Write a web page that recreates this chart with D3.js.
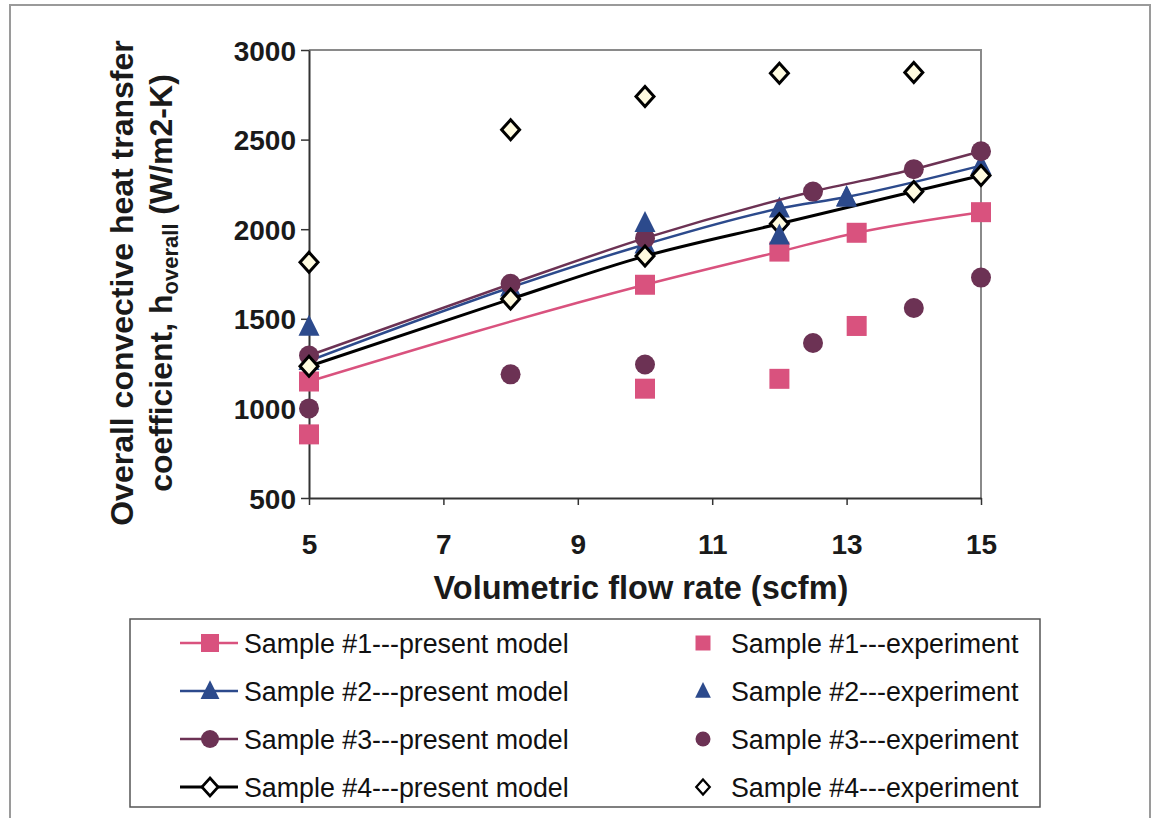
<!DOCTYPE html>
<html><head><meta charset="utf-8">
<script src="https://cdn.jsdelivr.net/npm/d3@7"></script>
<style>body{margin:0;background:#fff;} svg{display:block;font-family:"Liberation Sans",Arial,Helvetica,sans-serif;}</style>
</head><body>
<svg id="c" width="1153" height="818"></svg>
<script>
// ---- data ----
const xTicks = [5, 7, 9, 11, 13, 15];
const yTicks = [500, 1000, 1500, 2000, 2500, 3000];

const s1ModelX = [5, 10, 12, 13.15, 15];
const s1ModelY = [1150, 1690, 1875, 1980, 2095];
const s1ExpX = [5, 10, 12, 13.15];
const s1ExpY = [855, 1110, 1165, 1460];

const s2ModelX = [5, 8, 10, 12, 13, 15];
const s2ModelY = [1265, 1675, 1915, 2115, 2180, 2355];
const s2ExpX = [5, 10, 12, 13];
const s2ExpY = [1455, 2035, 1965, 2175];

const s3ModelX = [5, 8, 10, 12.5, 14, 15];
const s3ModelY = [1295, 1695, 1950, 2210, 2335, 2435];
const s3ExpX = [5, 8, 10, 12.5, 14, 15];
const s3ExpY = [1000, 1190, 1245, 1365, 1560, 1730];

const s4ModelX = [5, 8, 10, 12, 14, 15];
const s4ModelY = [1235, 1610, 1850, 2030, 2210, 2300];
const s4ExpX = [5, 8, 10, 12, 14];
const s4ExpY = [1815, 2555, 2740, 2870, 2875];

const modelNames = ["Sample #1---present model","Sample #2---present model","Sample #3---present model","Sample #4---present model"];
const expNames = ["Sample #1---experiment","Sample #2---experiment","Sample #3---experiment","Sample #4---experiment"];

// ---- styles ----
const colors = ["#d9527e", "#2c4a8c", "#6c3254", "#000000"];
const shapes = ["square", "triangle", "circle", "diamond"];

const svg = d3.select("#c");
const x = d3.scaleLinear().domain([5, 15]).range([309, 981]);
const y = d3.scaleLinear().domain([500, 3000]).range([498, 50]);

// outer frame
svg.append("path").attr("d","M10,830 V5 H1150 V830").attr("fill","none").attr("stroke","#9a9a9a").attr("stroke-width",2);

// plot border (top/right)
svg.append("path").attr("d",`M${x(5)},${y(3000)} H${x(15)} V${y(500)}`).attr("fill","none").attr("stroke","#8a8a8a").attr("stroke-width",2);

// axes
const gy = svg.append("g").attr("transform",`translate(${x(5)},0)`)
  .call(d3.axisLeft(y).tickValues(yTicks).tickFormat(d3.format("d")).tickSize(8).tickSizeOuter(0).tickPadding(5));
const gx = svg.append("g").attr("transform",`translate(0,${y(500)})`)
  .call(d3.axisBottom(x).tickValues(xTicks).tickFormat(d3.format("d")).tickSize(7).tickSizeOuter(0).tickPadding(29));
[gy, gx].forEach(g => {
  g.select(".domain").attr("stroke","#333").attr("stroke-width",2);
  g.selectAll(".tick line").attr("stroke","#333").attr("stroke-width",1.5);
  g.selectAll(".tick text").attr("font-size",28).attr("font-weight","bold").attr("fill","#1a1a1a")
    .attr("font-family","'Liberation Sans',Arial,sans-serif");
});
gy.selectAll(".tick text").attr("dy","0.36em");

// axis titles
svg.append("text").attr("x", 641).attr("y", 599).attr("text-anchor","middle")
  .attr("font-size",32.5).attr("font-weight","bold").attr("fill","#1a1a1a")
  .text("Volumetric flow rate (scfm)");
const yt = svg.append("g").attr("transform","translate(0,283) rotate(-90)");
yt.append("text").attr("x",0).attr("y",133).attr("text-anchor","middle")
  .attr("font-size",32).attr("font-weight","bold").attr("fill","#1a1a1a")
  .text("Overall convective heat transfer");
const t2 = yt.append("text").attr("x",0).attr("y",172).attr("text-anchor","middle")
  .attr("font-size",32).attr("font-weight","bold").attr("fill","#1a1a1a");
t2.append("tspan").text("coefficient, h");
t2.append("tspan").attr("font-size",22).attr("dy",6).text("overall");
t2.append("tspan").attr("dy",-6).text(" (W/m2-K)");

// marker path generator
function markerPath(shape){
  if (shape === "square") return "M-10,-10H10V10H-10Z";
  if (shape === "triangle") return "M0,-12L10.5,9H-10.5Z";
  if (shape === "circle") return d3.symbol(d3.symbolCircle, Math.PI*10*10)();
  return "M0,-10L9,0L0,10L-9,0Z";
}
function drawMarkers(g, xs, ys, i){
  g.selectAll(null).data(xs.map((v,k)=>[v, ys[k]])).enter().append("path")
    .attr("transform", d => `translate(${x(d[0])},${y(d[1])})`)
    .attr("d", markerPath(shapes[i]))
    .attr("fill", shapes[i] === "diamond" ? "#fffbe0" : colors[i])
    .attr("stroke", shapes[i] === "diamond" ? "#000" : "none")
    .attr("stroke-width", 3);
}

const models = [[s1ModelX,s1ModelY],[s2ModelX,s2ModelY],[s3ModelX,s3ModelY],[s4ModelX,s4ModelY]];
const exps = [[s1ExpX,s1ExpY],[s2ExpX,s2ExpY],[s3ExpX,s3ExpY],[s4ExpX,s4ExpY]];

const line = d3.line().x(d=>x(d[0])).y(d=>y(d[1])).curve(d3.curveMonotoneX);
const plot = svg.append("g");
models.forEach((m,i) => {
  const pts = m[0].map((v,k)=>[v, m[1][k]]);
  plot.append("path").attr("d", line(pts)).attr("fill","none")
    .attr("stroke", colors[i]).attr("stroke-width", i===3 ? 3 : 2.5);
  drawMarkers(plot, m[0], m[1], i);
});
exps.forEach((e,i) => drawMarkers(plot, e[0], e[1], i));

// legend
svg.append("rect").attr("x",130).attr("y",619).attr("width",910).attr("height",188)
  .attr("fill","#fff").attr("stroke","#555").attr("stroke-width",1.5);
const rowY = [643, 691, 739, 787];
modelNames.forEach((n,i) => {
  const g = svg.append("g");
  g.append("line").attr("x1",180).attr("x2",238).attr("y1",rowY[i]).attr("y2",rowY[i])
    .attr("stroke",colors[i]).attr("stroke-width", i===3 ? 3 : 2.5);
  g.append("path").attr("transform",`translate(210,${rowY[i]}) scale(0.9)`).attr("d", markerPath(shapes[i]))
    .attr("fill", shapes[i] === "diamond" ? "#fff" : colors[i])
    .attr("stroke", shapes[i] === "diamond" ? "#000" : "none").attr("stroke-width",3);
  g.append("text").attr("x",244).attr("y",rowY[i]).attr("dy","0.36em")
    .attr("font-size",26.8).attr("fill","#111").text(n);
});
expNames.forEach((n,i) => {
  const g = svg.append("g");
  g.append("path").attr("transform",`translate(703,${rowY[i]}) scale(0.75)`).attr("d", markerPath(shapes[i]))
    .attr("fill", shapes[i] === "diamond" ? "#fff" : colors[i])
    .attr("stroke", shapes[i] === "diamond" ? "#000" : "none").attr("stroke-width",3);
  g.append("text").attr("x",731).attr("y",rowY[i]).attr("dy","0.36em")
    .attr("font-size",26.8).attr("fill","#111").text(n);
});
</script>
</body></html>
